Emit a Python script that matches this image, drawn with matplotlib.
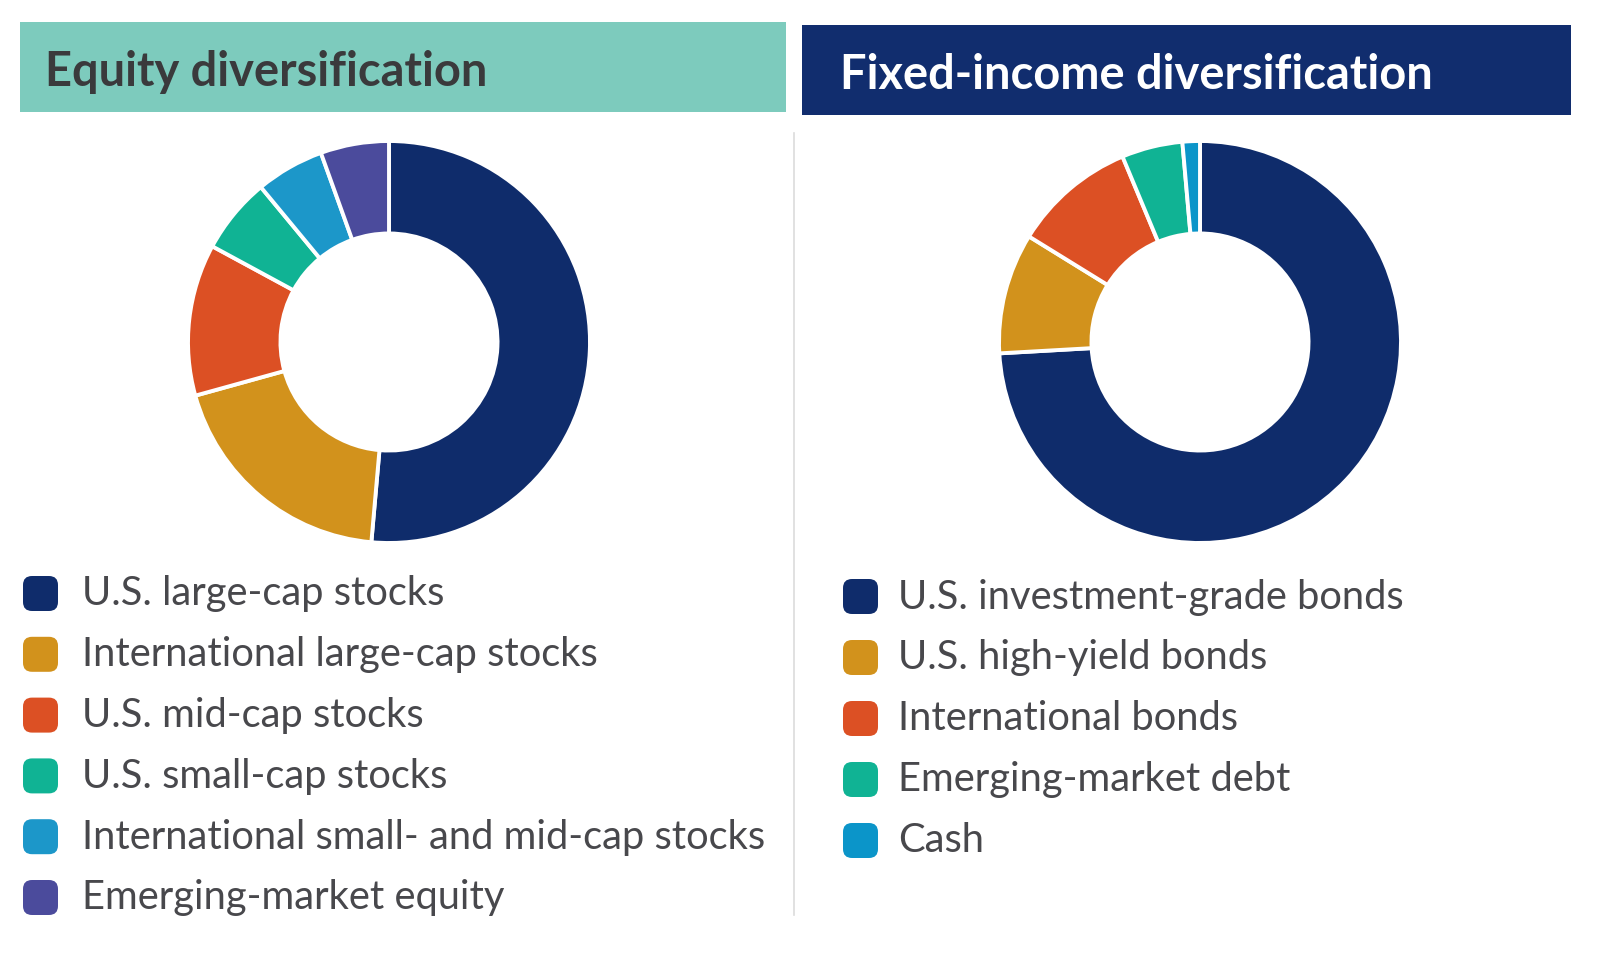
import matplotlib.pyplot as plt
from matplotlib.patches import FancyBboxPatch, Rectangle

# data (percent of each sleeve)
equity_labels = ['U.S. large-cap stocks', 'International large-cap stocks',
                 'U.S. mid-cap stocks', 'U.S. small-cap stocks',
                 'International small- and mid-cap stocks', 'Emerging-market equity']
equity_values = [51.4, 19.3, 12.2, 6.1, 5.5, 5.5]
equity_colors = ['#0f2c6b', '#d2921c', '#dc5024', '#10b394', '#1c97c9', '#4b4b9c']

fixed_labels = ['U.S. investment-grade bonds', 'U.S. high-yield bonds',
                'International bonds', 'Emerging-market debt', 'Cash']
fixed_values = [74.1, 9.7, 9.9, 4.9, 1.4]
fixed_colors = ['#0f2c6b', '#d2921c', '#dc5024', '#10b394', '#0b95c9']

W, H = 1600, 960
TEXT_GREY = '#48484c'

fig = plt.figure(figsize=(16, 9.6), dpi=100)
fig.patch.set_facecolor('white')

# full-size overlay in pixel coords (y down) for headers, legend and divider
bg = fig.add_axes([0, 0, 1, 1])
bg.set_xlim(0, W)
bg.set_ylim(H, 0)
bg.axis('off')


def donut(cx, cy, r, values, colors):
    ax = fig.add_axes([(cx - r) / W, 1 - (cy + r) / H, 2 * r / W, 2 * r / H])
    ax.pie(values, colors=colors, startangle=90, counterclock=False, radius=1,
           wedgeprops=dict(width=0.46, edgecolor='white', linewidth=2.8))
    ax.set_xlim(-1.01, 1.01)
    ax.set_ylim(-1.01, 1.01)
    return ax


def header(x, y, w, h, pad, text, face, color):
    bg.add_patch(Rectangle((x, y), w, h, facecolor=face, edgecolor='none'))
    bg.text(x + pad, y + h / 2 + 5, text, color=color, fontsize=33.8,
            family='Lato', weight='bold', va='center', ha='left')


def legend(x, y0, step, gap, labels, colors):
    for i, (lab, col) in enumerate(zip(labels, colors)):
        y = y0 + i * step
        bg.add_patch(FancyBboxPatch((x + 9, y - 8), 17, 17,
                                    boxstyle='round,pad=9', facecolor=col,
                                    edgecolor='none'))
        bg.text(x + gap, y + 1, lab, color=TEXT_GREY, fontsize=28.7,
                family='Lato', va='center', ha='left')


header(20, 22, 766, 90, 25, 'Equity diversification', '#7dcbbd', '#3a3a3c')
header(802, 25, 769, 90, 38, 'Fixed-income diversification', '#112d6e', 'white')

bg.plot([794, 794], [133, 915], color='#dcdcdc', lw=1.2)

donut(389, 342, 203, equity_values, equity_colors)
donut(1200, 342, 203, fixed_values, fixed_colors)

legend(23, 593, 60.8, 59, equity_labels, equity_colors)
legend(843, 596, 61, 55, fixed_labels, fixed_colors)

fig.savefig('out.png', dpi=100)
